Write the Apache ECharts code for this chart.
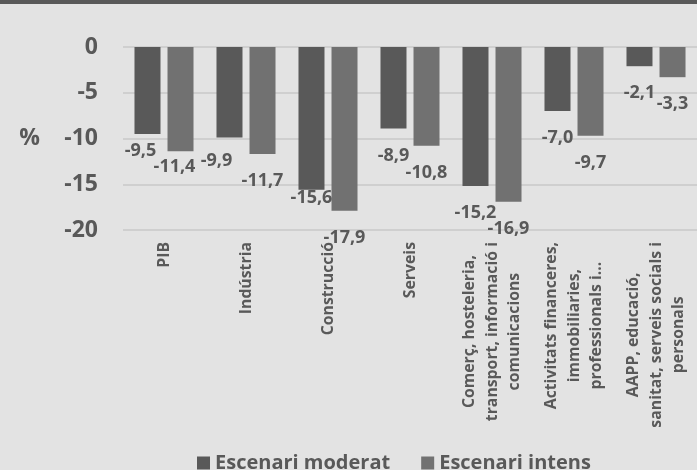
<!DOCTYPE html>
<html>
<head>
<meta charset="utf-8">
<script src="https://cdn.jsdelivr.net/npm/echarts@6/dist/echarts.min.js"></script>
<style>
  html, body { margin: 0; padding: 0; background: #e3e3e3; }
  #chart { width: 697px; height: 470px; }
</style>
</head>
<body>
<div id="chart"></div>
<script>
const categories = [
  'PIB',
  'Indústria',
  'Construcció',
  'Serveis',
  'Comerç, hosteleria,\ntransport, informació i\ncomunicacions',
  'Activitats financeres,\nimmobiliaries,\nprofessionals i…',
  'AAPP, educació,\nsanitat, serveis socials i\npersonals'
];
const seriesNames = ['Escenari moderat', 'Escenari intens'];
const moderat = [-9.5, -9.9, -15.6, -8.9, -15.2, -7.0, -2.1];
const intens = [-11.4, -11.7, -17.9, -10.8, -16.9, -9.7, -3.3];
const yTicks = { min: -20, max: 0, interval: 5 };

// label nudges (layout only)
const nudgeModerat = { 0: [-7, -10], 1: [-13, -4], 2: [0, -19] };
const nudgeIntens = { 0: [-6, -11] };

const TXT = '#595959';
const FONT = 'Open Sans';

function buildData(values, nudge) {
  return values.map((v, i) => {
    const o = { value: v };
    if (nudge[i]) o.label = { offset: nudge[i] };
    return o;
  });
}

const labelCommon = {
  show: true,
  position: 'bottom',
  distance: 17.5,
  color: TXT,
  fontFamily: FONT,
  fontWeight: 'bold',
  fontSize: 18,
  lineHeight: 19,
  formatter: p => p.value.toFixed(1).replace('.', ',')
};

const chart = echarts.init(document.getElementById('chart'));
chart.setOption({
  backgroundColor: '#e3e3e3',
  animation: false,
  graphic: [{
    type: 'rect', left: 0, top: 0, shape: { width: 697, height: 4 },
    style: { fill: '#595959' }, silent: true
  }],
  grid: { left: 123, top: 47, width: 577.5, height: 183 },
  legend: {
    data: seriesNames,
    left: 197,
    top: 451,
    padding: 0,
    itemWidth: 13,
    itemHeight: 13,
    itemGap: 31,
    icon: 'rect',
    textStyle: { color: TXT, fontFamily: FONT, fontWeight: 'bold', fontSize: 20, lineHeight: 24, padding: [0, 0, 0, 0] }
  },
  xAxis: {
    type: 'category',
    data: categories,
    position: 'bottom',
    axisLine: { show: false, onZero: false },
    axisTick: { show: false },
    axisLabel: {
      rotate: 90,
      interval: 0,
      margin: 12,
      color: TXT,
      fontFamily: FONT,
      fontWeight: 'bold',
      fontSize: 15.8,
      lineHeight: 22.5,
      formatter: v => v.split('\n').map(s => '{c|' + s + '}').join('\n'),
      rich: { c: { align: 'center', color: TXT, fontFamily: FONT, fontWeight: 'bold', fontSize: 15.8, lineHeight: 22.5 } }
    }
  },
  yAxis: {
    type: 'value',
    min: yTicks.min,
    max: yTicks.max,
    interval: yTicks.interval,
    name: '%',
    nameLocation: 'middle',
    nameRotate: 0,
    nameGap: 83,
    nameTextStyle: { color: TXT, fontFamily: FONT, fontWeight: 'bold', fontSize: 23 },
    axisLine: { show: false },
    axisTick: { show: false },
    axisLabel: { color: TXT, fontFamily: FONT, fontWeight: 'bold', fontSize: 23, margin: 25 },
    splitLine: { lineStyle: { color: '#c8c8c8', width: 1.5 } }
  },
  series: [
    {
      name: seriesNames[0], type: 'bar', barWidth: 26, barGap: '27%',
      itemStyle: { color: '#595959' },
      label: labelCommon,
      data: buildData(moderat, nudgeModerat)
    },
    {
      name: seriesNames[1], type: 'bar', barWidth: 26, barGap: '27%',
      itemStyle: { color: '#717171' },
      label: labelCommon,
      data: buildData(intens, nudgeIntens)
    }
  ]
});
</script>
</body>
</html>
